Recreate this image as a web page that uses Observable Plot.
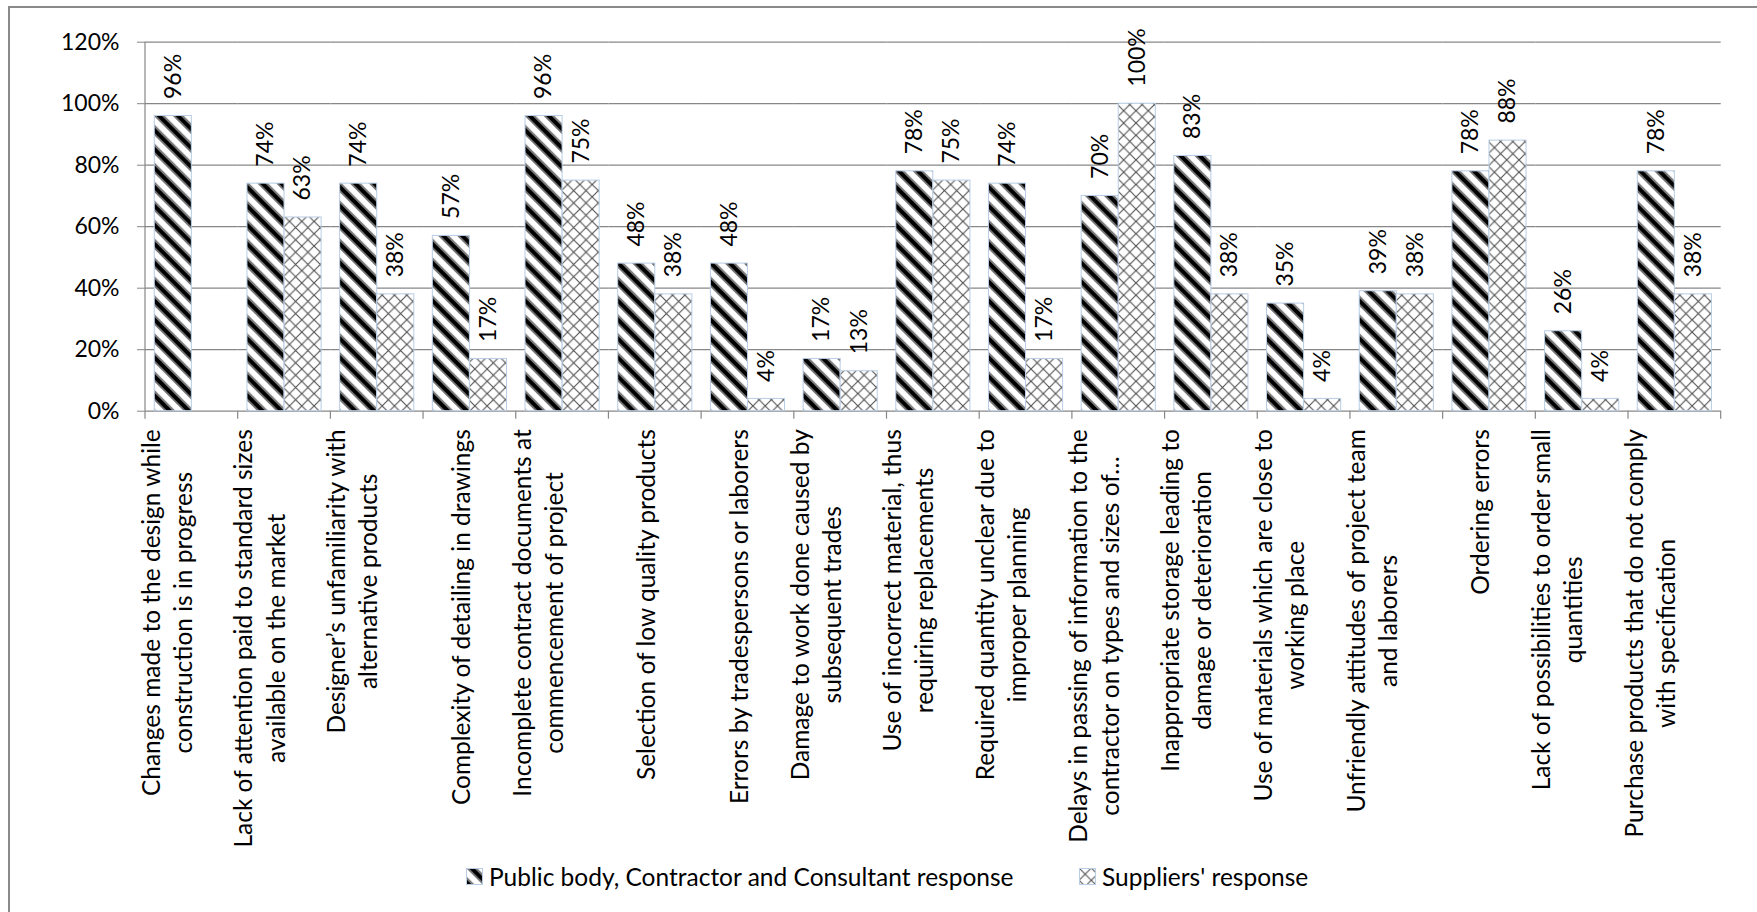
<!DOCTYPE html>
<html>
<head>
<meta charset="utf-8">
<script src="https://cdn.jsdelivr.net/npm/d3@7"></script>
<script src="https://cdn.jsdelivr.net/npm/@observablehq/plot@0.6"></script>
<style>
  html, body { margin: 0; padding: 0; background: #fff; width: 1757px; height: 912px; overflow: hidden; }
  #frame { position: absolute; left: 8px; top: 6px; width: 1800px; height: 1000px;
           border-left: 2px solid #8a8a8a; border-top: 2px solid #8a8a8a; box-sizing: border-box; }
  #wrap { position: absolute; left: 0; top: 0; width: 1757px; }
  #wrap svg.plot { display: block; }
  #legend { position: relative; height: 62px; font-family: Lato, sans-serif; font-size: 24.5px; color: #000; }
  #legend .item { position: absolute; top: 12px; display: flex; align-items: center; white-space: nowrap; }
  #legend .item svg { margin-right: 6px; }
  #defs { position: absolute; width: 0; height: 0; }
</style>
</head>
<body>
<svg id="defs" width="0" height="0">
  <defs>
    <pattern id="stripe" patternUnits="userSpaceOnUse" width="13.4" height="13.4" patternTransform="rotate(-45)">
      <rect width="13.4" height="13.4" fill="#fff"/>
      <rect x="0" width="1.6" height="13.4" fill="#777"/>
      <rect x="1.6" width="4.6" height="13.4" fill="#000"/>
      <rect x="6.2" width="1.6" height="13.4" fill="#777"/>
    </pattern>
    <pattern id="cross" patternUnits="userSpaceOnUse" width="12.3" height="12.3">
      <rect width="12.3" height="12.3" fill="#fff"/>
      <path d="M0,0L12.3,12.3M12.3,0L0,12.3" stroke="#505050" stroke-width="1.1" fill="none"/>
    </pattern>
  </defs>
</svg>
<div id="frame"></div>
<div id="wrap">
  <div id="chart"></div>
  <div id="legend">
    <span class="item" style="left:466px"><svg width="17" height="17"><rect x="0.5" y="0.5" width="16" height="16" fill="url(#stripe)" stroke="#b9cde5"/></svg>Public body, Contractor and Consultant response</span>
    <span class="item" style="left:1079px"><svg width="17" height="17"><rect x="0.5" y="0.5" width="16" height="16" fill="url(#cross)" stroke="#b9cde5"/></svg>Suppliers' response</span>
  </div>
</div>
<script>
// ---- data ----
const categories = [
  "Changes made to the design while\nconstruction is in progress",
  "Lack of attention paid to standard sizes\navailable on the market",
  "Designer’s unfamiliarity with\nalternative products",
  "Complexity of detailing in drawings",
  "Incomplete contract documents at\ncommencement of project",
  "Selection of low quality products",
  "Errors by tradespersons or laborers",
  "Damage to work done caused by\nsubsequent trades",
  "Use of incorrect material, thus\nrequiring replacements",
  "Required quantity unclear due to\nimproper planning",
  "Delays in passing of information to the\ncontractor on types and sizes of…",
  "Inappropriate storage leading to\ndamage or deterioration",
  "Use of materials which are close to\nworking place",
  "Unfriendly attitudes of project team\nand laborers",
  "Ordering errors",
  "Lack of possibilities to order small\nquantities",
  "Purchase products that do not comply\nwith specification"
];
const seriesNames = ["Public body, Contractor and Consultant response", "Suppliers' response"];
const publicValues   = [0.96, 0.74, 0.74, 0.57, 0.96, 0.48, 0.48, 0.17, 0.78, 0.74, 0.70, 0.83, 0.35, 0.39, 0.78, 0.26, 0.78];
const supplierValues = [null, 0.63, 0.38, 0.17, 0.75, 0.38, 0.04, 0.13, 0.75, 0.17, 1.00, 0.38, 0.04, 0.38, 0.88, 0.04, 0.38];
const yTicks = [0, 0.2, 0.4, 0.6, 0.8, 1.0, 1.2];

// ---- table built from arrays ----
const rows = [];
categories.forEach((c, i) => {
  rows.push({category: c, series: seriesNames[0], value: publicValues[i]});
  if (supplierValues[i] != null) rows.push({category: c, series: seriesNames[1], value: supplierValues[i]});
});
const pct = v => Math.round(v * 100) + "%";

const chart = Plot.plot({
  width: 1757,
  height: 850,
  marginLeft: 145,
  marginRight: 36.3,
  marginTop: 41.7,
  marginBottom: 439.3,
  style: {fontFamily: "Lato, sans-serif", fontSize: "23px", color: "#000", background: "transparent", overflow: "visible"},
  fx: {domain: categories, padding: 0, round: false, axis: null, label: null},
  x: {domain: seriesNames, paddingInner: 0, paddingOuter: 0.25, round: false, axis: null, label: null},
  y: {domain: [0, 1.2], axis: null, label: null},
  marks: [
    Plot.gridY(yTicks, {stroke: "#878787", strokeOpacity: 1, strokeWidth: 1.2}),
    Plot.barY(rows.filter(d => d.series === seriesNames[0]), {fx: "category", x: "series", y: "value", fill: "url(#stripe)", stroke: "#b9cde5", strokeWidth: 1}),
    Plot.barY(rows.filter(d => d.series === seriesNames[1]), {fx: "category", x: "series", y: "value", fill: "url(#cross)", stroke: "#b9cde5", strokeWidth: 1}),
    Plot.text(rows, {fx: "category", x: "series", y: "value", text: d => pct(d.value), rotate: -90, textAnchor: "start", dy: -17, fill: "#000", fontSize: 23}),
    Plot.text(categories, {fx: d => d, text: d => d, frameAnchor: "bottom", dy: 18, rotate: -90, textAnchor: "end", lineHeight: 1.31, fill: "#000", fontSize: 24.5}),
    Plot.axisY(yTicks, {label: null, tickFormat: pct, tickSize: 8, tickPadding: 18, stroke: "#878787", strokeOpacity: 1, fill: "#000", fontSize: 23})
  ]
});
document.getElementById("chart").appendChild(chart);

// axis line & category boundary ticks (Excel style), positioned via Plot's scales
const fxS = chart.scale("fx"), yS = chart.scale("y");
const y0 = yS.apply(0);
const ga = d3.select(chart).append("g").attr("stroke", "#878787").attr("stroke-width", 1.2);
const edges = categories.map(c => fxS.apply(c)).concat([fxS.apply(categories[categories.length - 1]) + fxS.bandwidth]);
edges.forEach(x => ga.append("line").attr("x1", x).attr("x2", x).attr("y1", y0).attr("y2", y0 + 8));
ga.append("line").attr("x1", edges[0]).attr("x2", edges[0]).attr("y1", yS.apply(1.2)).attr("y2", y0);

// center multi-line rotated category labels like Excel
function centerLabels() {
  chart.querySelectorAll("text").forEach(t => {
    const spans = t.querySelectorAll("tspan");
    if (spans.length < 2) return;
    const lens = Array.from(spans, s => s.getComputedTextLength());
    const m = Math.max(...lens);
    t.setAttribute("text-anchor", "middle");
    spans.forEach(s => s.setAttribute("x", -m / 2));
  });
}
centerLabels();
</script>
</body>
</html>
